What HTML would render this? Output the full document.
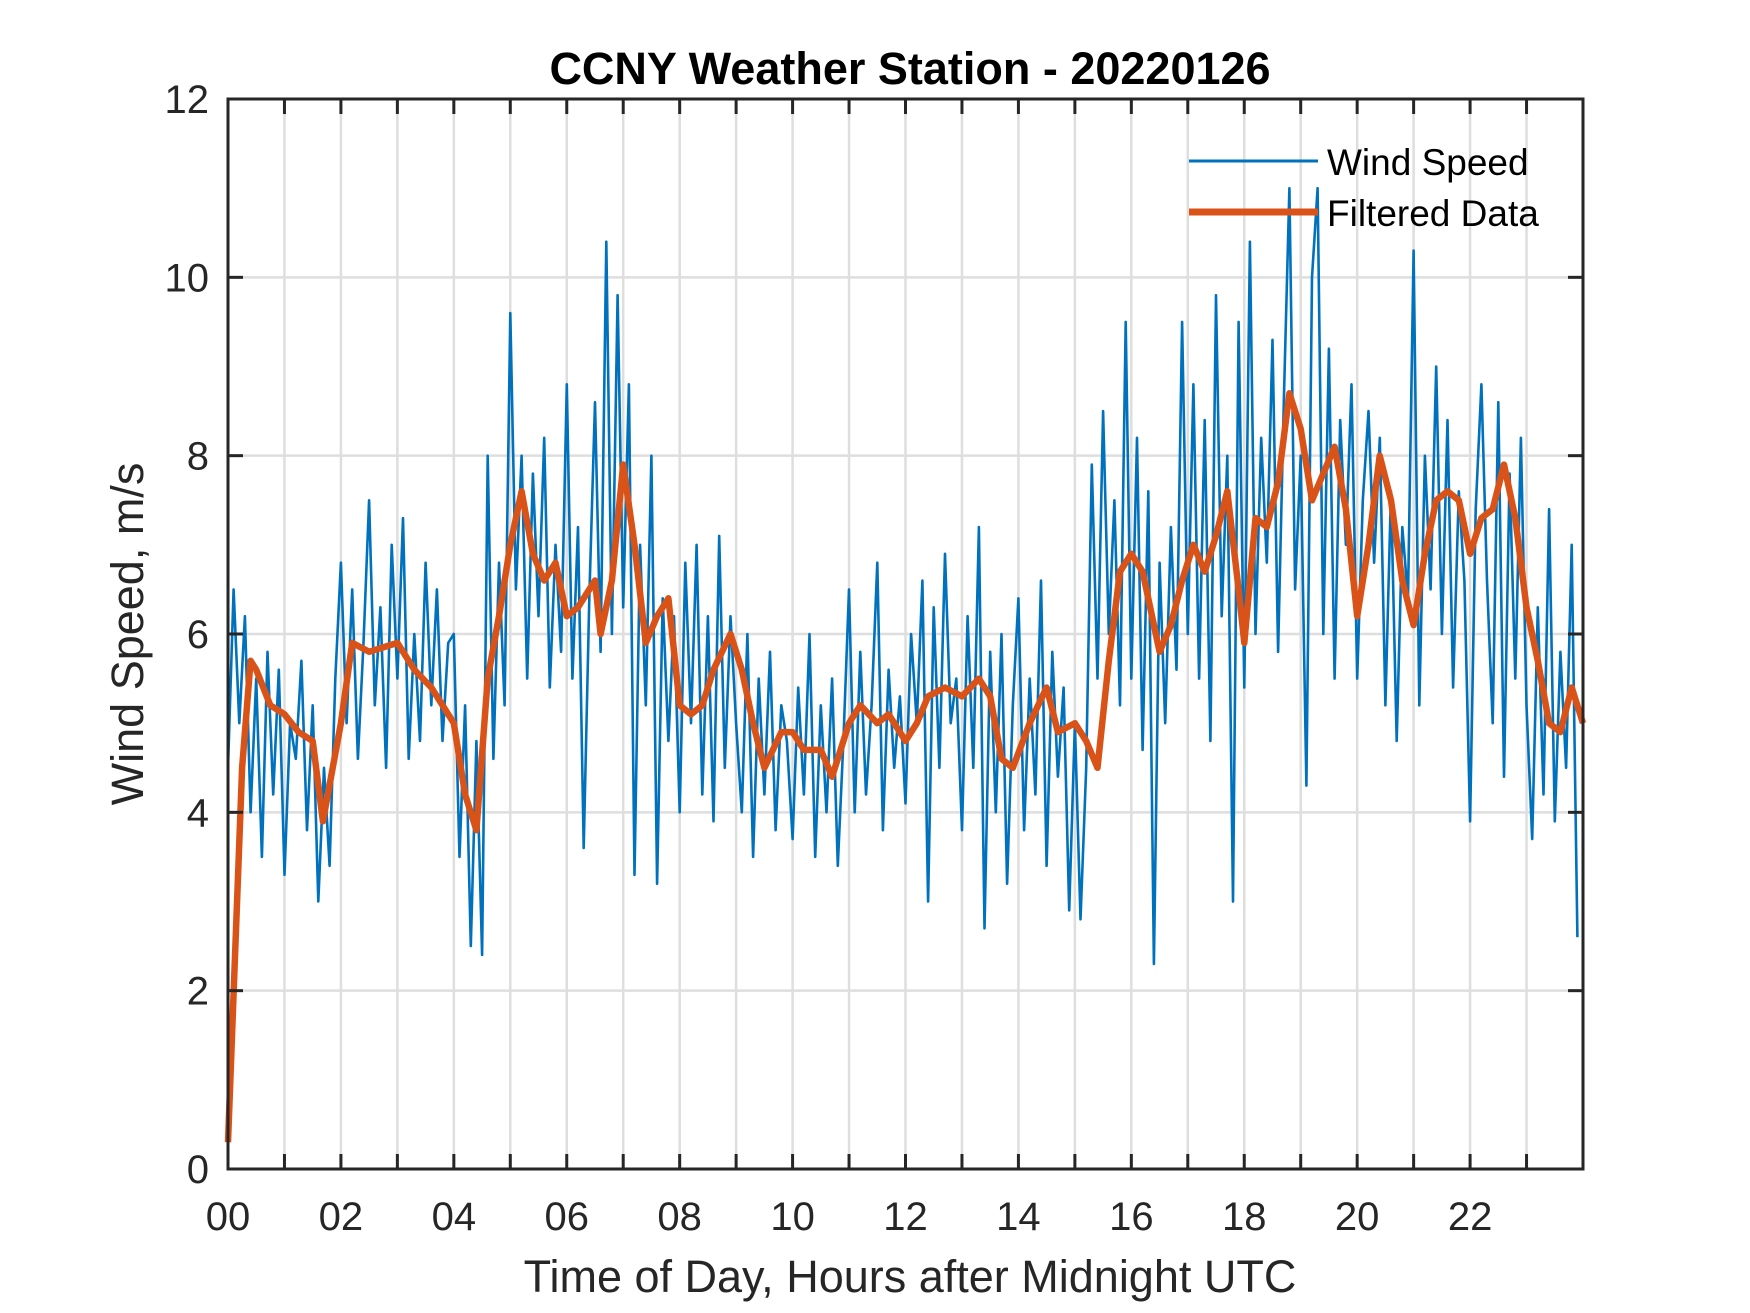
<!DOCTYPE html>
<html><head><meta charset="utf-8"><style>
body{margin:0;background:#fff;}
svg{display:block;font-family:"Liberation Sans",Arial,sans-serif;}
</style></head><body>
<svg id="chart" width="1750" height="1313" viewBox="0 0 1750 1313">
<rect width="1750" height="1313" fill="#fff"/>
<g id="grid"></g>
<g id="series"></g>
<rect x="228" y="99" width="1355" height="1070" fill="none" stroke="#262626" stroke-width="3"/>
<g id="ticks"></g>
<text x="910" y="84" text-anchor="middle" font-size="45" font-weight="bold" fill="#000">CCNY Weather Station - 20220126</text>
<text x="910" y="1292" text-anchor="middle" font-size="45" fill="#262626">Time of Day, Hours after Midnight UTC</text>
<text transform="translate(143,634) rotate(-90)" text-anchor="middle" font-size="45" fill="#262626">Wind Speed, m/s</text>
<g>
<line x1="1189" y1="161" x2="1318" y2="161" stroke="#0072BD" stroke-width="3"/>
<text x="1327" y="175" font-size="37" fill="#000">Wind Speed</text>
<line x1="1189" y1="212" x2="1318" y2="212" stroke="#D95319" stroke-width="7"/>
<text x="1327" y="226" font-size="37" fill="#000">Filtered Data</text>
</g>
</svg>
<script>
const xTickLabels=["00","02","04","06","08","10","12","14","16","18","20","22"];
const yTickLabels=["0","2","4","6","8","10","12"];
const rawStep=0.1;
const rawValues=[
4.5,6.5,5.0,6.2,4.0,5.5,3.5,5.8,4.2,5.6,
3.3,5.0,4.6,5.7,3.8,5.2,3.0,4.5,3.4,5.5,
6.8,5.0,6.5,4.6,5.9,7.5,5.2,6.3,4.5,7.0,
5.5,7.3,4.6,6.0,4.8,6.8,5.2,6.5,4.8,5.9,
6.0,3.5,5.2,2.5,4.8,2.4,8.0,4.6,6.8,5.2,
9.6,6.5,8.0,5.5,7.8,6.2,8.2,5.4,7.0,5.8,
8.8,5.5,7.2,3.6,6.4,8.6,5.8,10.4,6.0,9.8,
6.3,8.8,3.3,7.0,5.2,8.0,3.2,6.4,4.8,6.2,
4.0,6.8,5.0,7.0,4.2,6.2,3.9,7.1,4.5,6.2,
5.0,4.0,6.0,3.5,5.5,4.2,5.8,3.8,5.2,4.8,
3.7,5.4,4.2,6.0,3.5,5.2,4.0,5.5,3.4,4.8,
6.5,4.0,5.8,4.2,5.2,6.8,3.8,5.6,4.5,5.3,
4.1,6.0,5.0,6.6,3.0,6.3,4.5,6.9,5.0,5.5,
3.8,6.2,4.5,7.2,2.7,5.8,4.0,6.0,3.2,5.2,
6.4,3.8,5.5,4.2,6.6,3.4,5.8,4.4,5.4,2.9,
5.0,2.8,4.5,7.9,5.5,8.5,6.0,7.5,5.2,9.5,
5.5,8.2,4.7,7.6,2.3,6.8,5.0,7.2,5.6,9.5,
6.0,8.8,5.5,8.4,4.8,9.8,6.2,8.0,3.0,9.5,
5.4,10.4,6.0,8.2,6.8,9.3,5.8,8.6,11.0,6.5,
8.0,4.3,10.0,11.0,6.0,9.2,5.5,8.4,7.0,8.8,
5.5,7.5,8.5,6.8,8.2,5.2,7.6,4.8,7.2,6.4,
10.3,5.2,8.0,6.5,9.0,6.0,8.4,5.4,7.6,6.6,
3.9,7.4,8.8,6.6,5.0,8.6,4.4,7.8,5.5,8.2,
5.2,3.7,6.3,4.2,7.4,3.9,5.8,4.5,7.0,2.6];
const filtTimes=[0,0.25,0.4,0.5,0.75,1.0,1.25,1.5,1.68,2.0,2.2,2.5,3.0,3.3,3.6,4.0,4.2,4.4,4.6,4.8,5.0,5.2,5.4,5.6,5.8,6.0,6.2,6.5,6.6,6.8,7.0,7.2,7.4,7.6,7.8,8.0,8.2,8.4,8.6,8.9,9.1,9.3,9.5,9.8,10.0,10.2,10.5,10.7,10.9,11.0,11.2,11.5,11.7,12.0,12.2,12.4,12.7,13.0,13.3,13.5,13.7,13.9,14.2,14.5,14.7,15.0,15.2,15.4,15.6,15.8,16.0,16.2,16.4,16.5,16.7,16.9,17.1,17.3,17.5,17.7,17.9,18.0,18.2,18.4,18.6,18.8,19.0,19.2,19.4,19.6,19.8,20.0,20.2,20.4,20.6,20.8,21.0,21.2,21.4,21.6,21.8,22.0,22.2,22.4,22.6,22.8,23.0,23.2,23.4,23.6,23.8,24.0];
const filtValues=[0.3,4.5,5.7,5.6,5.2,5.1,4.9,4.8,3.9,5.0,5.9,5.8,5.9,5.6,5.4,5.0,4.2,3.8,5.5,6.2,7.0,7.6,6.9,6.6,6.8,6.2,6.3,6.6,6.0,6.6,7.9,7.0,5.9,6.2,6.4,5.2,5.1,5.2,5.6,6.0,5.6,5.0,4.5,4.9,4.9,4.7,4.7,4.4,4.8,5.0,5.2,5.0,5.1,4.8,5.0,5.3,5.4,5.3,5.5,5.3,4.6,4.5,5.0,5.4,4.9,5.0,4.8,4.5,5.7,6.7,6.9,6.7,6.1,5.8,6.1,6.6,7.0,6.7,7.1,7.6,6.5,5.9,7.3,7.2,7.7,8.7,8.3,7.5,7.8,8.1,7.4,6.2,7.0,8.0,7.5,6.6,6.1,6.9,7.5,7.6,7.5,6.9,7.3,7.4,7.9,7.3,6.3,5.7,5.0,4.9,5.4,5.0];

const L=228,R=1583,T=99,B=1169,XMAX=24,YMAX=12;
function xs(h){return L+(R-L)*h/XMAX;}
function ys(v){return B-(B-T)*v/YMAX;}
const NS="http://www.w3.org/2000/svg";
function mk(tag,parent,attrs){const e=document.createElementNS(NS,tag);for(const k in attrs)e.setAttribute(k,attrs[k]);parent.appendChild(e);return e;}
const grid=document.getElementById('grid'),ticks=document.getElementById('ticks'),series=document.getElementById('series');
for(let h=1;h<XMAX;h++){
  const g=mk('line',grid,{x1:xs(h),x2:xs(h),y1:T,y2:B,stroke:'#dedede','stroke-width':2.5});
  
  
  const t1=mk('line',ticks,{x1:xs(h),x2:xs(h),y1:B,y2:B-15,stroke:'#262626','stroke-width':3});
  
  
  const t2=mk('line',ticks,{x1:xs(h),x2:xs(h),y1:T,y2:T+15,stroke:'#262626','stroke-width':3});
  
  
}
yTickLabels.forEach((lab,i)=>{
  const v=i*2;
  if(v>0&&v<YMAX){
    const g=mk('line',grid,{x1:L,x2:R,y1:ys(v),y2:ys(v),stroke:'#dedede','stroke-width':2.5});
    
    
    const t1=mk('line',ticks,{x1:L,x2:L+15,y1:ys(v),y2:ys(v),stroke:'#262626','stroke-width':3});
    
    
    const t2=mk('line',ticks,{x1:R,x2:R-15,y1:ys(v),y2:ys(v),stroke:'#262626','stroke-width':3});
    
    
  }
  const t=mk('text',ticks,{x:209,y:ys(v)+14,'text-anchor':'end','font-size':40,fill:'#262626'});
  
  
  t.textContent=lab;
});
xTickLabels.forEach((lab,i)=>{
  const t=mk('text',ticks,{x:xs(i*2),y:1230,'text-anchor':'middle','font-size':40,fill:'#262626'});
  
  
  t.textContent=lab;
});
let d='';
rawValues.forEach((v,i)=>{d+=(i?'L':'M')+xs(i*rawStep).toFixed(1)+','+ys(v).toFixed(1);});
const raw=mk('path',series,{d:d,fill:'none',stroke:'#0072BD','stroke-width':2.6,'stroke-linejoin':'round'});


let d2='';
filtValues.forEach((v,i)=>{d2+=(i?'L':'M')+xs(filtTimes[i]).toFixed(1)+','+ys(v).toFixed(1);});
const f=mk('path',series,{d:d2,fill:'none',stroke:'#D95319','stroke-width':6.5,'stroke-linejoin':'round'});


</script>
</body></html>
